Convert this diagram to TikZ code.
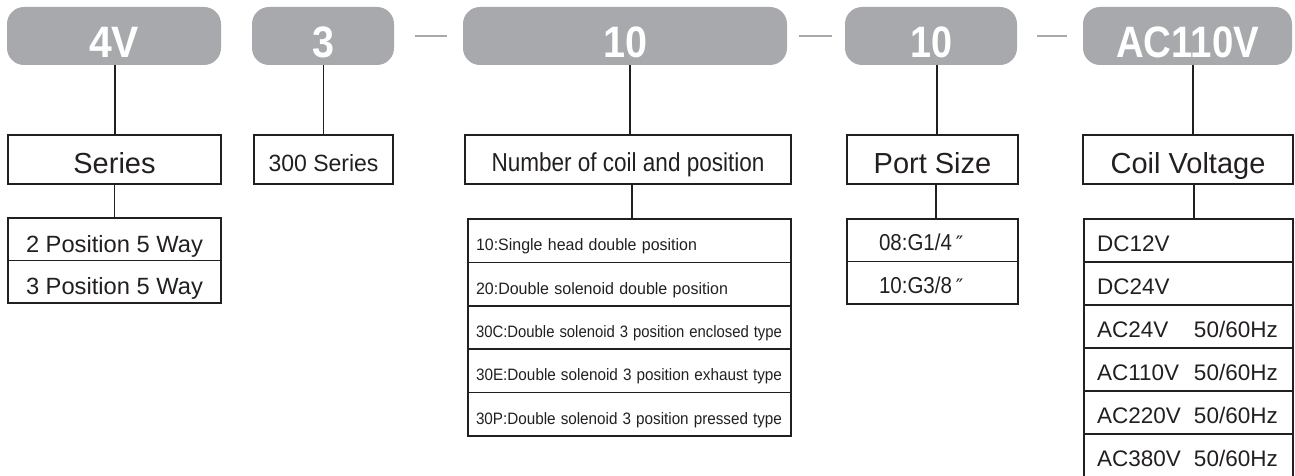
\documentclass[tikz,border=0pt]{standalone}
\usepackage{fontspec}
\setmainfont{Liberation Sans}
\newfontfamily\djv{DejaVu Sans}
\usepackage{graphicx}
\definecolor{pillgray}{HTML}{A7A9AC}
\definecolor{ink}{HTML}{231F20}
\newlength\fitlen
\newcommand\fitw[2]{\settowidth\fitlen{#2}\pgfmathsetmacro\fitsc{#1/\fitlen}\scalebox{\fitsc}[1]{#2}}
\begin{document}
\begin{tikzpicture}[x=1pt,y=-1pt,
  pill/.style={fill=pillgray, rounded corners=17pt, anchor=north west, inner sep=0pt, outer sep=0pt,
    text=white, font=\bfseries\fontsize{44}{44}\selectfont, minimum height=58pt, text height=43pt, text depth=0pt},
  box/.style={draw=ink, line width=1.6pt, anchor=north west, inner sep=0pt, outer sep=0pt,
    minimum height=49pt, text=ink},
  capbig/.style={font=\fontsize{29}{29}\selectfont, text height=27pt, text depth=0pt},
  row/.style={draw=ink, line width=1.6pt, anchor=north west, inner sep=0pt, outer sep=0pt, text=ink},
  serrow/.style={row, minimum width=213pt, minimum height=42.5pt,
    font=\fontsize{23.5}{23.5}\selectfont, text height=26pt, text depth=0pt},
  numrow/.style={row, minimum width=323pt, minimum height=43.4pt, inner xsep=8pt, text width=307pt, align=left,
    font=\fontsize{16.5}{16.5}\selectfont, text height=20pt, text depth=0pt},
  portrow/.style={row, minimum width=171pt, minimum height=42.5pt, inner xsep=32pt, text width=107pt, align=left,
    font=\fontsize{23}{23}\selectfont, text height=21pt, text depth=0pt},
  coilrow/.style={row, minimum width=209pt, minimum height=43pt, inner xsep=13pt, text width=183pt, align=left,
    font=\fontsize{22.5}{22.5}\selectfont, text height=21pt, text depth=0pt},
  conn/.style={draw=ink, line width=1.5pt},
  dashline/.style={draw=pillgray, line width=1.5pt}]
\useasboundingbox (0,0) rectangle (1295,476);
\clip (0,0) rectangle (1295,476);
% header pills
\node[pill, minimum width=214pt] (p1) at (7,7) {\fitw{50}{4V}};
\node[pill, minimum width=142pt] (p2) at (252,7) {\fitw{22}{3}};
\node[pill, minimum width=324pt] (p3) at (463,7) {\fitw{44}{10}};
\node[pill, minimum width=172pt] (p4) at (845,7) {\fitw{42}{10}};
\node[pill, minimum width=209pt] (p5) at (1083,7) {\fitw{143}{AC110V}};
% dashes
\draw[dashline] ([xshift=21pt]p2.east) -- ([xshift=53pt]p2.east);
\draw[dashline] ([xshift=12pt]p3.east) -- ([xshift=45pt]p3.east);
\draw[dashline] ([xshift=20pt]p4.east) -- ([xshift=50pt]p4.east);
% category boxes
\node[box, capbig, minimum width=213pt] (b1) at (8,135) {Series};
\node[box, minimum width=139pt, font=\fontsize{23.5}{23.5}\selectfont, text height=23pt, text depth=0pt] (b2) at (254,135) {\fitw{110}{300 Series}};
\node[box, minimum width=326pt, font=\fontsize{26}{26}\selectfont, text height=23pt, text depth=0pt] (b3) at (465,135) {\fitw{273}{Number of coil and position}};
\node[box, capbig, minimum width=171pt] (b4) at (847,135) {Port Size};
\node[box, capbig, minimum width=210pt] (b5) at (1083,135) {Coil Voltage};
% series rows
\node[serrow] (s1) at (8,218) {\fitw{177}{2 Position 5 Way}};
\node[serrow] (s2) at (s1.south west) {\fitw{177}{3 Position 5 Way}};
% number rows
\node[numrow] (n1) at (468,219) {\fitw{221}{10:Single head double position}};
\node[numrow] (n2) at (n1.south west) {\fitw{252}{20:Double solenoid double position}};
\node[numrow] (n3) at (n2.south west) {\fitw{306}{30C:Double solenoid 3 position enclosed type}};
\node[numrow] (n4) at (n3.south west) {\fitw{306}{30E:Double solenoid 3 position exhaust type}};
\node[numrow] (n5) at (n4.south west) {\fitw{306}{30P:Double solenoid 3 position pressed type}};
% port rows
\node[portrow] (r1) at (847,219) {\fitw{73}{08:G1/4}\,{\djv\fontsize{20}{20}\selectfont ″}};
\node[portrow] (r2) at (r1.south west) {\fitw{73}{10:G3/8}\,{\djv\fontsize{20}{20}\selectfont ″}};
% coil rows
\node[coilrow] (c1) at (1084,219) {DC12V};
\node[coilrow] (c2) at (c1.south west) {DC24V};
\node[coilrow] (c3) at (c2.south west) {\makebox[97pt][l]{AC24V}50/60Hz};
\node[coilrow] (c4) at (c3.south west) {\makebox[97pt][l]{AC110V}50/60Hz};
\node[coilrow] (c5) at (c4.south west) {\makebox[97pt][l]{AC220V}50/60Hz};
\node[coilrow] (c6) at (c5.south west) {\makebox[97pt][l]{AC380V}50/60Hz};
% connectors
\draw[conn] ([xshift=1pt]p1.south) -- ([xshift=1pt]p1.south |- b1.north);
\draw[conn] (b2.north |- p2.south) -- (b2.north);
\draw[conn] ([xshift=2pt]b3.north |- p3.south) -- ([xshift=2pt]b3.north);
\draw[conn] ([xshift=4.5pt]b4.north |- p4.south) -- ([xshift=4.5pt]b4.north);
\draw[conn] ([xshift=5pt]b5.north |- p5.south) -- ([xshift=5pt]b5.north);
\draw[conn] (s1.north |- b1.south) -- (s1.north);
\draw[conn] ([xshift=2.5pt]n1.north |- b3.south) -- ([xshift=2.5pt]n1.north);
\draw[conn] ([xshift=3.5pt]r1.north |- b4.south) -- ([xshift=3.5pt]r1.north);
\draw[conn] ([xshift=5.5pt]c1.north |- b5.south) -- ([xshift=5.5pt]c1.north);
\end{tikzpicture}
\end{document}
